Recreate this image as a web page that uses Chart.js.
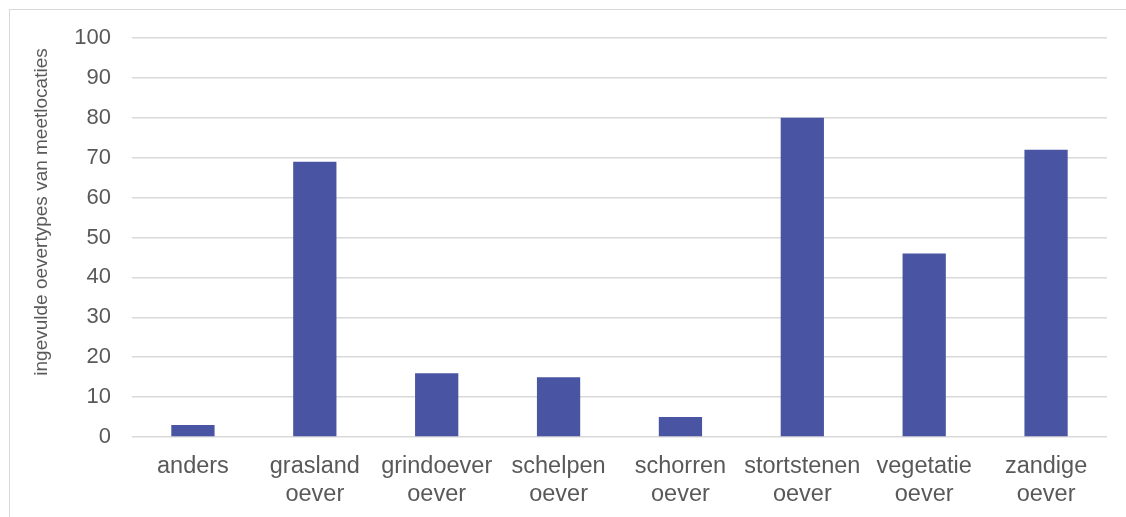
<!DOCTYPE html>
<html>
<head>
<meta charset="utf-8">
<script src="https://cdn.jsdelivr.net/npm/chart.js"></script>
<style>
  html, body { margin: 0; padding: 0; background: #ffffff; }
  #wrap { position: relative; width: 1126px; height: 517px; overflow: hidden; }
  #frame { position: absolute; left: 9px; top: 9px; width: 1140px; height: 540px; border: 1px solid #d9d9d9; box-sizing: border-box; }
  canvas { position: absolute; left: 0; top: 0; }
</style>
</head>
<body>
<div id="wrap">
  <div id="frame"></div>
  <canvas id="c" width="1126" height="517"></canvas>
</div>
<script>
const categories = [
  ["anders"],
  ["grasland", "oever"],
  ["grindoever", "oever"],
  ["schelpen", "oever"],
  ["schorren", "oever"],
  ["stortstenen", "oever"],
  ["vegetatie", "oever"],
  ["zandige", "oever"]
];
const values = [3, 69, 16, 15, 5, 80, 46, 72];
const yTicks = [0, 10, 20, 30, 40, 50, 60, 70, 80, 90, 100];
const yTitle = "ingevulde oevertypes van meetlocaties";

const textColor = "#595959";
const gridColor = "#d9d9d9";
const fontFamily = "'Liberation Sans', Arial, sans-serif";

// Draws the y-axis title (real text on the canvas), slightly above the plot's centre as in the reference
const yTitlePlugin = {
  id: "yTitlePlugin",
  afterDraw(chart) {
    const ctx = chart.ctx;
    ctx.save();
    ctx.translate(42, 212);
    ctx.rotate(-Math.PI / 2);
    ctx.fillStyle = textColor;
    ctx.font = "19px " + fontFamily;
    ctx.textAlign = "center";
    ctx.textBaseline = "middle";
    ctx.fillText(yTitle, 0, 0);
    ctx.restore();
  }
};

new Chart(document.getElementById("c"), {
  type: "bar",
  data: {
    labels: categories,
    datasets: [{
      data: values,
      backgroundColor: "#4955a3",
      borderWidth: 0,
      barPercentage: 1,
      categoryPercentage: 0.355
    }]
  },
  options: {
    responsive: false,
    animation: false,
    devicePixelRatio: 1,
    layout: { padding: { left: 0, right: 19, top: 38, bottom: 0 } },
    plugins: { legend: { display: false }, tooltip: { enabled: false } },
    scales: {
      x: {
        grid: { display: false },
        border: { display: false },
        ticks: {
          color: textColor,
          font: { family: fontFamily, size: 23.5 },
          maxRotation: 0,
          autoSkip: false,
          padding: 7
        },
        afterFit: (s) => { s.height = 80; }
      },
      y: {
        min: 0,
        max: 100,
        afterBuildTicks: (s) => { s.ticks = yTicks.map(v => ({ value: v })); },
        grid: { color: gridColor, lineWidth: 1.5, drawTicks: false },
        border: { display: false },
        ticks: {
          color: textColor,
          font: { family: fontFamily, size: 22 },
          padding: 21
        },
        afterFit: (s) => { s.width = 132; }
      }
    }
  },
  plugins: [yTitlePlugin]
});
</script>
</body>
</html>
